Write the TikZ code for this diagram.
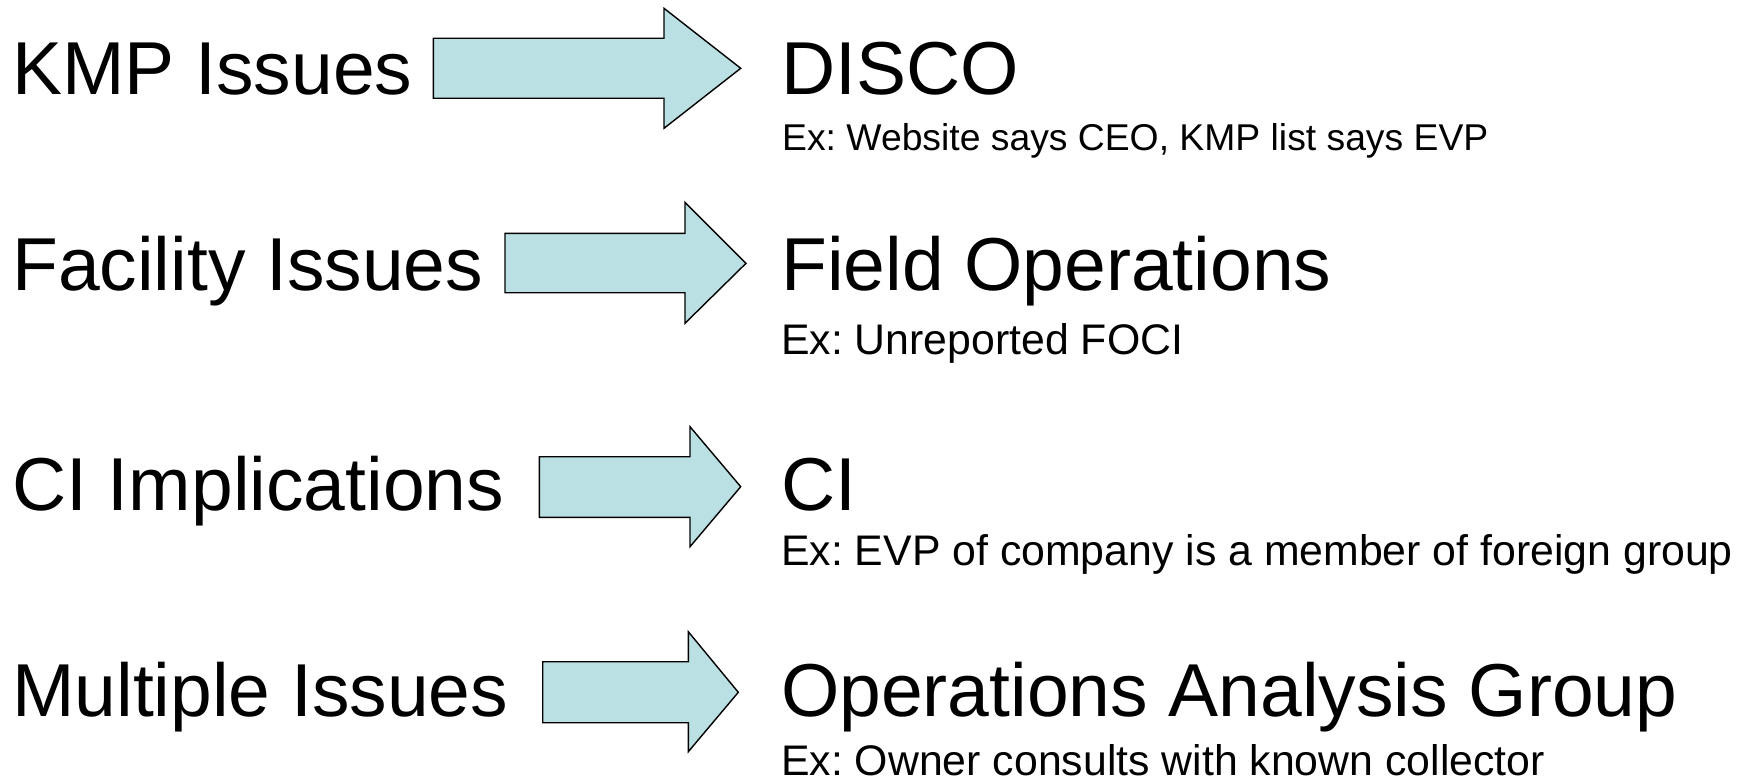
\documentclass[tikz,border=0pt]{standalone}
\usepackage{fontspec}
\setmainfont{Liberation Sans}
\frenchspacing
\definecolor{arrowfill}{HTML}{BBE0E3}
\tikzset{
  blockarrow/.style={draw=black, fill=arrowfill, line width=1.4pt, line join=miter},
  bigtext/.style={anchor=base west, inner sep=0pt, font=\fontsize{75}{80}\selectfont},
  smalltext/.style={anchor=base west, inner sep=0pt, font=\fontsize{42.8}{48}\selectfont},
  smallertext/.style={anchor=base west, inner sep=0pt, font=\fontsize{37.3}{42}\selectfont}
}
\begin{document}
\begin{tikzpicture}[x=1pt,y=-1pt]
\useasboundingbox (0,0) rectangle (1745,781);
% row 1
\node[bigtext] (l1) at (12,94.5) {KMP Issues};
\draw[blockarrow] (433.3,38.3) -- (664,38.3) -- (664,8.3) -- (740.7,68.3) -- (664,128.3) -- (664,98.3) -- (433.3,98.3) -- cycle;
\node[bigtext] (r1) at (781,94.5) {DISCO};
\node[smallertext] (s1) at (782,150) {Ex: Website says CEO, KMP list says EVP};
% row 2
\node[bigtext] (l2) at (12,290) {Facility Issues};
\draw[blockarrow] (505,233.3) -- (685,233.3) -- (685,202.3) -- (746,263.3) -- (685,323.3) -- (685,292.7) -- (505,292.7) -- cycle;
\node[bigtext] (r2) at (781,290) {Field Operations};
\node[smalltext] (s2) at (781,354) {Ex: Unreported FOCI};
% row 3
\node[bigtext] (l3) at (12,510) {CI Implications};
\draw[blockarrow] (539.3,456.7) -- (690,456.7) -- (690,426.7) -- (740.7,486.7) -- (690,546.7) -- (690,517.3) -- (539.3,517.3) -- cycle;
\node[bigtext] (r3) at (781,510) {CI};
\node[smalltext] (s3) at (781,565) {Ex: EVP of company is a member of foreign group};
% row 4
\node[bigtext] (l4) at (12,716) {Multiple Issues};
\draw[blockarrow] (542.7,661.7) -- (688.3,661.7) -- (688.3,631.7) -- (738.3,692.3) -- (688.3,751.7) -- (688.3,722.7) -- (542.7,722.7) -- cycle;
\node[bigtext] (r4) at (781,716) {Operations Analysis Group};
\node[smalltext] (s4) at (781,775) {Ex: Owner consults with known collector};
\end{tikzpicture}
\end{document}
